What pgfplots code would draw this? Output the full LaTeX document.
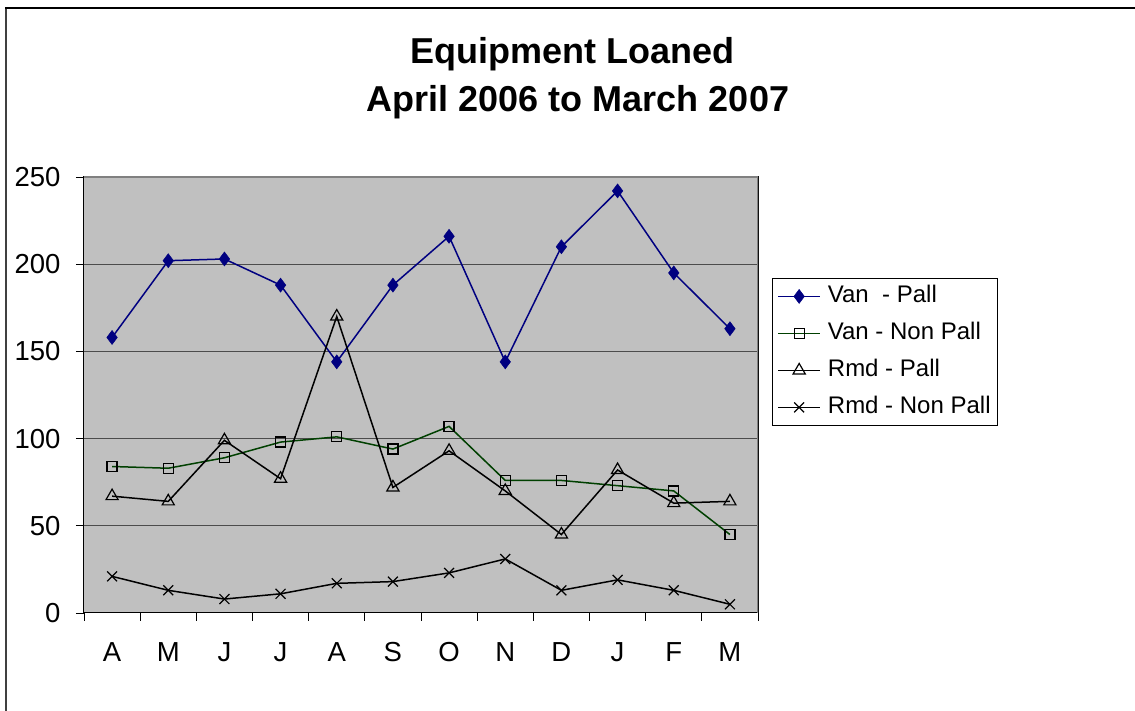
\documentclass[border=0pt]{standalone}
\usepackage{fontspec}
\setmainfont{Liberation Sans}
\usepackage{pgfplots}
\pgfplotsset{compat=1.18}
\definecolor{vanpall}{RGB}{0,0,128}
\definecolor{vannp}{RGB}{0,64,0}
\definecolor{plotbg}{RGB}{192,192,192}
\begin{document}
\begin{tikzpicture}[x=1pt,y=1pt]
\path[use as bounding box] (-84,-98) rectangle (1051,613);
\draw[line width=1.6pt, black!75] (-78,-98) -- (-78,605);
\draw[line width=1.2pt, black] (-78.8,605) -- (1051,605);
\node[anchor=base, inner sep=0pt, font=\fontsize{36}{42}\selectfont\bfseries] at (488.5,549) {Equipment Loaned};
\node[anchor=base, inner sep=0pt, font=\fontsize{36}{42}\selectfont\bfseries] at (494,501) {April 2006 to March 2007};
\begin{axis}[
  at={(0,0)}, anchor=south west,
  scale only axis, width=674pt, height=436pt,
  xmin=-0.5, xmax=11.5, ymin=0, ymax=250,
  xtick={-0.5,0.5,1.5,2.5,3.5,4.5,5.5,6.5,7.5,8.5,9.5,10.5,11.5},
  x tick label as interval,
  xticklabels={A,M,J,J,A,S,O,N,D,J,F,M},
  ytick={0,50,100,150,200,250},
  xtick pos=bottom, ytick pos=left,
  tick align=outside, major tick length=8pt,
  tick style={black, line width=0.8pt},
  ymajorgrids, grid style={black!70, line width=1pt},
  axis background/.style={fill=plotbg},
  axis line style={black, line width=1pt},
  ticklabel style={font=\fontsize{27.5}{32}\selectfont},
  yticklabel style={xshift=-12pt},
  xticklabel style={yshift=-18pt},
  /pgf/number format/assume math mode=true,
  legend style={at={(rel axis cs:1.0208,0.7683)}, anchor=north west,
    draw=black, fill=white, line width=0.8pt,
    font=\fontsize{24}{28}\selectfont,
    inner sep=5pt, row sep=11pt,
    nodes={inner sep=2pt, text height=17pt, text depth=5pt},
    /tikz/every odd column/.append style={column sep=5pt}},
  legend cell align=left,
  legend image code/.code={\draw[mark repeat=2,mark phase=2] plot coordinates {(0pt,0pt) (21pt,0pt) (42pt,0pt)};},
]
\addplot[color=vanpall, line width=1.5pt, mark=diamond*, mark size=7pt, mark options={fill=vanpall, draw=vanpall, line width=0.5pt}]
  coordinates {(0,158) (1,202) (2,203) (3,188) (4,144) (5,188) (6,216) (7,144) (8,210) (9,242) (10,195) (11,163)};
\addlegendentry{Van\ \ - Pall}
\addplot[color=vannp, line width=1.5pt, mark=square, mark size=5pt, mark options={draw=black, line width=1.2pt}]
  coordinates {(0,84) (1,83) (2,89) (3,98) (4,101) (5,94) (6,107) (7,76) (8,76) (9,73) (10,70) (11,45)};
\addlegendentry{Van - Non Pall}
\addplot[color=black, line width=1.5pt, mark=triangle, mark size=7pt, mark options={draw=black, line width=1.2pt}]
  coordinates {(0,67) (1,64) (2,99) (3,77) (4,170) (5,72) (6,93) (7,70) (8,45) (9,82) (10,63) (11,64)};
\addlegendentry{Rmd - Pall}
\addplot[color=black, line width=1.5pt, mark=x, mark size=7pt, mark options={draw=black, line width=1.2pt}]
  coordinates {(0,21) (1,13) (2,8) (3,11) (4,17) (5,18) (6,23) (7,31) (8,13) (9,19) (10,13) (11,5)};
\addlegendentry{Rmd - Non Pall}
\draw[gray, line width=1.5pt] (rel axis cs:0,1) -- (rel axis cs:1,1) -- (rel axis cs:1,0);
\end{axis}
\end{tikzpicture}
\end{document}
